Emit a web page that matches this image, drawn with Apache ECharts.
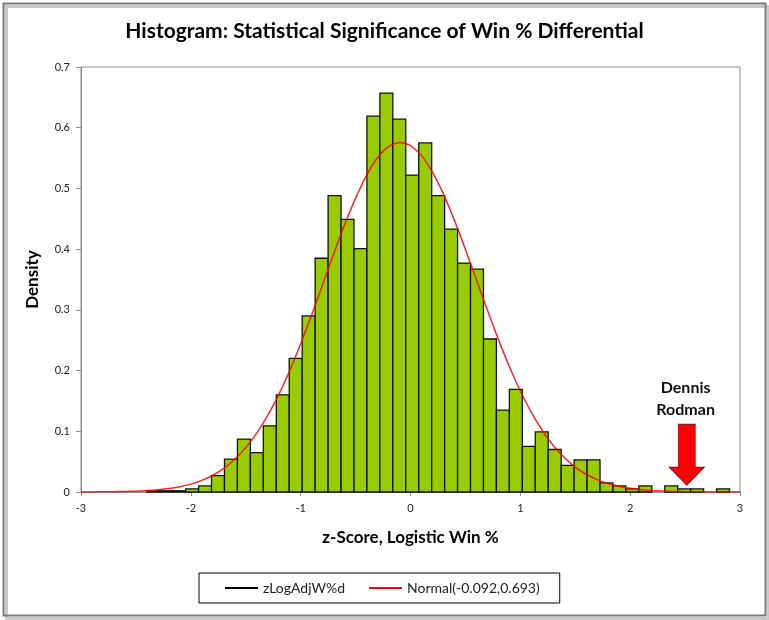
<!DOCTYPE html>
<html>
<head>
<meta charset="utf-8">
<script src="https://cdn.jsdelivr.net/npm/echarts@6/dist/echarts.min.js"></script>
<style>html,body{margin:0;padding:0;background:#fff;}#c{width:769px;height:620px;}</style>
</head>
<body>
<div id="c"></div>
<script>
// ---- data ----
const titleText = 'Histogram: Statistical Significance of Win % Differential';
const xAxisName = 'z-Score, Logistic Win %';
const yAxisName = 'Density';
const histName = 'zLogAdjW%d';
const normalName = 'Normal(-0.092,0.693)';
const annotationText = 'Dennis\nRodman';
const annotationX = 2.515;

// histogram bins (left edge of first bin, bin width, densities)
const binStart = -2.401;
const binWidth = 0.1179;
const binDensity = [
  0.002, 0.002, 0.002, 0.005, 0.010, 0.027, 0.054, 0.087, 0.065, 0.109,
  0.160, 0.220, 0.290, 0.385, 0.488, 0.449, 0.401, 0.619, 0.657, 0.614,
  0.522, 0.575, 0.488, 0.433, 0.377, 0.367, 0.252, 0.135, 0.169, 0.075,
  0.099, 0.070, 0.044, 0.053, 0.053, 0.015, 0.010, 0.005, 0.010, 0.000,
  0.010, 0.005, 0.005, 0.000, 0.005
];

// fitted normal curve, read at x = -3.0, -2.9, ..., 3.0
const curveX = [
  -3.0,-2.9,-2.8,-2.7,-2.6,-2.5,-2.4,-2.3,-2.2,-2.1,
  -2.0,-1.9,-1.8,-1.7,-1.6,-1.5,-1.4,-1.3,-1.2,-1.1,
  -1.0,-0.9,-0.8,-0.7,-0.6,-0.5,-0.4,-0.3,-0.2,-0.1,
   0.0, 0.1, 0.2, 0.3, 0.4, 0.5, 0.6, 0.7, 0.8, 0.9,
   1.0, 1.1, 1.2, 1.3, 1.4, 1.5, 1.6, 1.7, 1.8, 1.9,
   2.0, 2.1, 2.2, 2.3, 2.4, 2.5, 2.6, 2.7, 2.8, 2.9, 3.0
];
const curveY = [
  0.0001,0.0002,0.0003,0.0005,0.0008,0.0014,0.0023,0.0036,0.0056,0.0087,
  0.0130,0.0191,0.0276,0.0390,0.0540,0.0731,0.0970,0.1261,0.1604,0.1998,
  0.2441,0.2917,0.3416,0.3918,0.4401,0.4841,0.5216,0.5504,0.5688,0.5757,
  0.5706,0.5540,0.5268,0.4906,0.4474,0.3997,0.3497,0.2996,0.2514,0.2067,
  0.1663,0.1311,0.1013,0.0766,0.0567,0.0411,0.0292,0.0203,0.0139,0.0092,
  0.0060,0.0039,0.0024,0.0015,0.0009,0.0005,0.0003,0.0002,0.0001,0.0001,0.0000
];

const xTicks = [-3, -2, -1, 0, 1, 2, 3];
const yTicks = [0, 0.1, 0.2, 0.3, 0.4, 0.5, 0.6, 0.7];

// ---- build ----
const histData = binDensity.map((d, i) => [binStart + binWidth * i, binStart + binWidth * (i + 1), d]);
const curveData = curveX.map((x, i) => [x, curveY[i]]);

const FONT = 'Lato, "Open Sans", sans-serif';
const chart = echarts.init(document.getElementById('c'), null, {renderer: 'canvas'});
chart.setOption({
  backgroundColor: '#ffffff',
  animation: false,
  title: {
    text: titleText,
    left: 'center',
    top: 16,
    textStyle: {fontFamily: FONT, fontWeight: 'bold', fontSize: 21, color: '#000'}
  },
  legend: {
    left: 199,
    top: 573,
    padding: [8, 20, 8, 26],
    itemGap: 24,
    itemWidth: 33,
    itemHeight: 2,
    borderColor: '#000',
    borderWidth: 1,
    textStyle: {fontFamily: FONT, fontSize: 14, color: '#222'},
    data: [
      {name: histName, icon: 'rect', itemStyle: {color: '#000'}},
      {name: normalName, icon: 'rect', itemStyle: {color: '#ff0000'}}
    ]
  },
  grid: {
    left: 81, right: 29, top: 67, bottom: 128,
    show: true, borderColor: '#8c8c8c', borderWidth: 1
  },
  xAxis: {
    type: 'value',
    min: xTicks[0], max: xTicks[xTicks.length - 1], interval: 1,
    name: xAxisName,
    nameLocation: 'middle',
    nameGap: 37,
    nameTextStyle: {fontFamily: FONT, fontWeight: 'bold', fontSize: 17, color: '#000'},
    axisLine: {show: true, onZero: false, lineStyle: {color: '#8c8c8c', width: 1}},
    axisTick: {show: true, length: 4, lineStyle: {color: '#8c8c8c'}},
    axisLabel: {margin: 11, fontFamily: FONT, fontSize: 11, color: '#222'},
    splitLine: {show: false}
  },
  yAxis: {
    type: 'value',
    min: yTicks[0], max: yTicks[yTicks.length - 1], interval: 0.1,
    name: yAxisName,
    nameLocation: 'middle',
    nameGap: 40,
    nameRotate: 90,
    nameTextStyle: {fontFamily: FONT, fontWeight: 'bold', fontSize: 17, color: '#000'},
    axisLine: {show: true, onZero: false, lineStyle: {color: '#8c8c8c', width: 1}},
    axisTick: {show: true, length: 5, lineStyle: {color: '#8c8c8c'}},
    axisLabel: {margin: 11, fontFamily: FONT, fontSize: 11, color: '#222',
      formatter: v => (Math.round(v * 10) / 10).toString()},
    splitLine: {show: false}
  },
  series: [
    {
      name: histName,
      type: 'custom',
      data: histData,
      encode: {x: [0, 1], y: 2},
      z: 2,
      itemStyle: {color: '#000'},
      renderItem: function (params, api) {
        const x0 = api.value(0), x1 = api.value(1), h = api.value(2);
        if (h <= 0) return null;
        const p0 = api.coord([x0, h]);
        const p1 = api.coord([x1, 0]);
        return {
          type: 'rect',
          shape: {x: p0[0], y: p0[1], width: p1[0] - p0[0], height: p1[1] - p0[1]},
          style: {fill: '#99cc00', stroke: '#111', lineWidth: 1.3}
        };
      }
    },
    {
      name: normalName,
      type: 'line',
      data: curveData,
      showSymbol: false,
      smooth: 0.2,
      z: 3,
      lineStyle: {color: '#ff0000', width: 1.5, opacity: 0.85},
      itemStyle: {color: '#ff0000'},
      markPoint: {
        silent: true,
        animation: false,
        data: [
          {
            coord: [annotationX, 0.0615],
            symbol: 'path://M9,0 L26,0 L26,43 L35,43 L17.5,61 L0,43 L9,43 Z',
            symbolSize: [35, 61],
            symbolKeepAspect: false,
            itemStyle: {color: '#ff0000', borderColor: '#8b0000', borderWidth: 0.8},
            label: {show: false}
          },
          {
            coord: [annotationX - 0.01, 0.153],
            symbol: 'circle',
            symbolSize: 0,
            label: {
              show: true, position: 'inside', formatter: annotationText,
              fontFamily: FONT, fontWeight: 'bold', fontSize: 16, lineHeight: 22, color: '#111'
            }
          }
        ]
      }
    }
  ],
  graphic: [
    {type: 'rect', left: 4, top: 4, shape: {width: 762, height: 612},
     style: {fill: 'none', stroke: '#c8c8c8', lineWidth: 3}, z: 0, silent: true},
    {type: 'rect', left: 1, top: 1, shape: {width: 762, height: 612},
     style: {fill: 'none', stroke: '#7a7a7a', lineWidth: 2}, z: 1, silent: true}
  ]
});
</script>
</body>
</html>
